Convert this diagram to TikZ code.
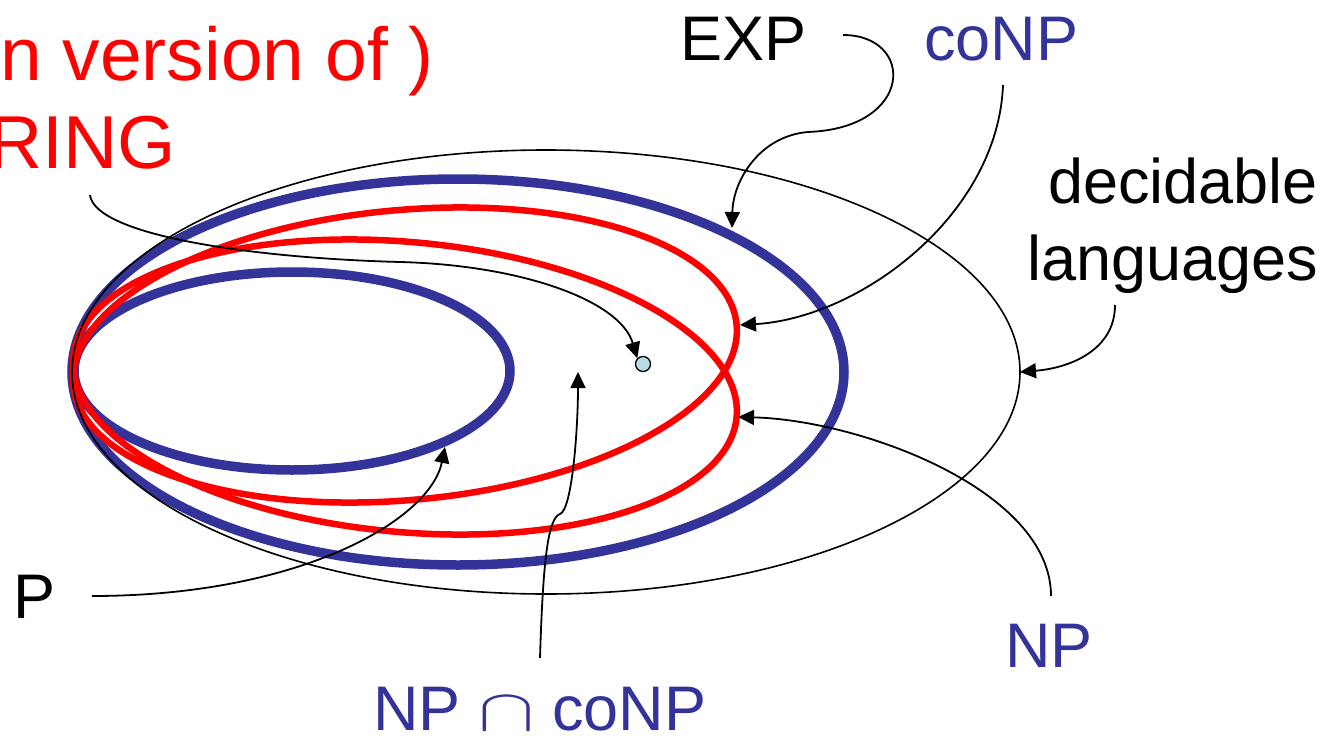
\documentclass[tikz,border=0pt]{standalone}
\usepackage{fontspec}
\setmainfont{Liberation Sans}
\usetikzlibrary{arrows.meta}
\definecolor{clsblue}{RGB}{51,51,153}
\definecolor{dotblue}{RGB}{182,221,226}
\begin{document}
\begin{tikzpicture}[x=1pt,y=-1pt,
  lbl/.style={inner sep=0pt,anchor=base west,font=\fontsize{63}{70}\selectfont},
  redlbl/.style={inner sep=0pt,anchor=base east,text=red,font=\fontsize{75}{80}\selectfont},
  cls/.style={line width=9.5pt,draw=clsblue},
  npcls/.style={line width=6.5pt,draw=red},
  ptr/.style={line width=1.8pt,-{Triangle[length=16pt,width=15pt]}}]
\useasboundingbox (0,0) rectangle (1331,736);
\draw[cls] (458,372) ellipse (386 and 193);
\draw[cls] (292,371) ellipse (218 and 99);
\draw[npcls,rotate around={5.2:(405,355)}] (405,355) ellipse (333 and 145);
\draw[npcls,rotate around={-5.2:(405,387)}] (405,387) ellipse (333 and 145);
\draw[line width=1.6pt] (546,372) ellipse (474 and 222);
\node[circle,draw,line width=1.3pt,fill=dotblue,minimum size=15pt,inner sep=0pt] (inst) at (643,364) {};
\node[redlbl] (fact1) at (434,80) {n version of )};
\node[redlbl] (fact2) at (176,168) {RING};
\node[lbl] (exp) at (680,60) {EXP};
\node[lbl,text=clsblue] (conp) at (924,60) {coNP};
\node[lbl,anchor=base east] (dec) at (1318,203) {decidable};
\node[lbl,anchor=base east] (lang) at (1318,280) {languages};
\node[lbl] (p) at (13,618) {P};
\node[lbl,text=clsblue] (np) at (1005,667) {NP};
\node[lbl,text=clsblue] (npconp) at (373,730) {NP \scalebox{3.4}[2.4]{$\cap$} coNP};
\coordinate (expA) at (843,35);
\coordinate (expB) at (732,228);
\coordinate (conpA) at (1003,85);
\coordinate (conpB) at (740,325);
\coordinate (langA) at (1115,305);
\coordinate (langB) at (1020,372);
\coordinate (factA) at (90,195);
\coordinate (pA) at (92,596);
\coordinate (pB) at (445,447);
\coordinate (npconpA) at (540,658);
\coordinate (npconpB) at (578,372);
\coordinate (npA) at (1051,596);
\coordinate (npB) at (738,417);
\draw[ptr] (expA) .. controls (915,35) and (915,128) .. (808,132) .. controls (760,136) and (733,180) .. (expB);
\draw[ptr] (conpA) .. controls (998,215) and (860,318) .. (conpB);
\draw[ptr] (langA) .. controls (1115,350) and (1070,368) .. (langB);
\draw[ptr] (factA) .. controls (95,235) and (250,258) .. (400,262) .. controls (520,265) and (620,300) .. (inst.north west);
\draw[ptr] (pA) .. controls (300,596) and (430,520) .. (pB);
\draw[ptr] (npconpA) .. controls (543,560) and (548,518) .. (560,514) .. controls (572,510) and (578,430) .. (npconpB);
\draw[ptr] (npA) .. controls (1051,490) and (860,420) .. (npB);
\end{tikzpicture}
\end{document}
